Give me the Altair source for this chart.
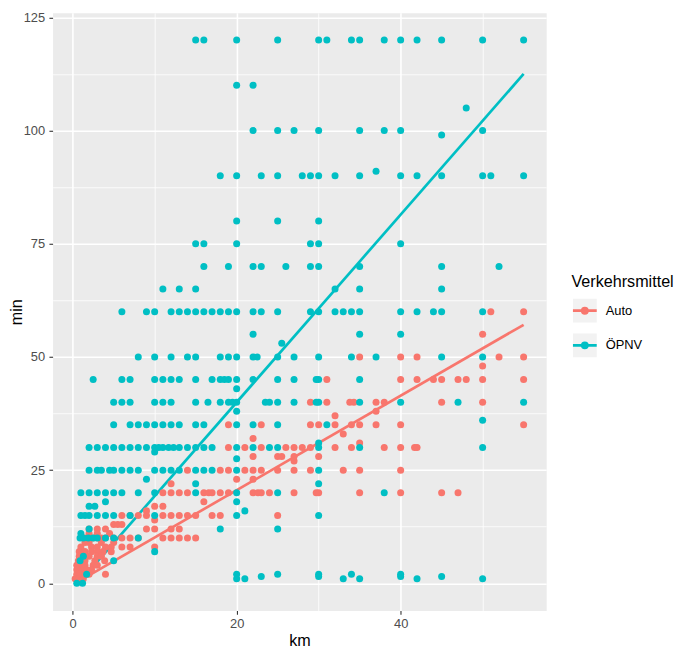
import altair as alt
import pandas as pd

# ---- data: minutes -> list of km values ----
oepnv_points = {
    120: [15, 16, 20, 25, 30, 31, 34, 35, 38, 40, 42, 45, 50, 55],
    110: [20, 22],
    105: [48],
    100: [22, 25, 27, 30, 35, 38, 40, 50],
    99: [45],
    91: [37],
    90: [18, 20, 23, 25, 28, 29, 30, 32, 35, 40, 42, 45, 50, 51, 55],
    80: [20, 25, 30],
    75: [15, 16, 20, 29, 30, 40],
    70: [16, 19, 22, 23, 26, 29, 30, 35, 45, 52],
    65: [11, 13, 15, 32, 35, 45],
    60: [6, 9, 10, 12, 13, 14, 15, 16, 17, 18, 19, 20, 22, 23, 25, 29, 30,
         32, 33, 34, 35, 40, 42, 44, 45, 50],
    55: [22, 35, 40],
    53: [25.5],
    50: [8, 10, 12, 14, 15, 18, 19, 20, 22, 22.5, 25, 27, 30, 34, 37, 45, 50],
    45: [2.5, 6, 7, 10, 11, 12, 13, 15, 17, 18, 18.5, 19, 20, 22, 25, 27,
         29.7, 30, 35],
    43: [20],
    40: [5, 6, 7, 10, 11, 12, 15, 16.5, 18, 19, 19.5, 20, 23.5, 24, 25, 27,
         29.7, 30, 35, 40, 47, 55],
    38: [20],
    36: [50],
    35: [5, 7, 8, 9, 10, 11, 12, 13, 15, 16, 20, 22, 25, 31],
    31: [30],
    30: [2, 3, 4, 5, 6, 7, 8, 9, 10, 10.5, 11, 11.7, 12.3, 13, 14, 15, 16,
         17, 20, 22, 24, 25, 30, 35, 50],
    29: [10],
    27.5: [20],
    25: [2, 3, 3.5, 4.5, 5, 6, 7, 8, 10, 11, 12, 13, 15, 16, 17, 20, 30],
    23: [9],
    22: [15, 30],
    20: [1, 2, 3, 4, 5, 6, 8, 10, 15, 20, 25, 38],
    18: [4, 20],
    17: [2, 2.7],
    16: [21],
    15: [1, 1.5, 2, 3, 4, 5, 7, 10, 20, 30],
    12: [2, 18, 25],
    11: [1],
    10: [0.9, 1.3, 1.9, 2.5, 3, 4, 5, 8],
    7: [10],
    6: [1.3],
    5: [0.9, 5],
    2: [1.7, 20, 25, 30, 34, 40],
    1.5: [23, 30, 40, 45],
    1: [20, 21, 33, 35, 42, 50],
    0: [0.5, 1.2],
}

auto_points = {
    60: [51, 55],
    55: [50],
    50: [35, 40, 42, 52, 55],
    48: [50],
    45: [31, 40, 42, 44, 45, 47, 48, 50, 55],
    40: [29, 31, 33.8, 34.3, 37, 38, 45, 50],
    38: [37],
    37: [32],
    35: [19, 23, 29, 30, 32, 34, 35, 37, 40, 55],
    33: [33],
    32: [22],
    31: [35],
    30: [19, 21, 23, 26, 27, 28, 29, 32, 34, 38, 40, 41.7, 42],
    28: [22, 25, 25.5, 27, 30],
    27: [27],
    25: [14, 18, 19, 21, 22, 23, 25, 27, 29, 33, 35, 40],
    23: [20, 22],
    22: [12],
    20: [11, 12, 13, 14, 16, 16.6, 17, 18, 19, 22, 22.6, 23, 24, 27, 29.7,
         30, 35, 40, 45, 47],
    18: [16],
    17: [10, 11],
    16: [9],
    15: [6, 7, 8, 9, 11, 12, 13, 14, 15, 17, 18, 25],
    14: [10],
    13: [5, 5.5, 6],
    12: [2, 3, 4, 9, 10, 12, 13],
    11: [2, 3, 4.5],
    10: [1.5, 2, 2.5, 3, 3.5, 4, 5, 6, 7, 8, 11, 12, 13, 14, 15],
    9: [1.5, 2, 3.5, 5],
    8: [1, 2.3, 3, 4, 4.7, 6, 7, 10],
    7: [0.8, 1.5, 2.3, 3, 3.7, 4.7],
    6: [0.8, 1.2, 2, 3, 3.5],
    5: [0.7, 1.5, 2.7, 3.9],
    4: [0.5, 1, 1.5, 2.5, 3],
    3: [0.5, 1.2, 1.7, 2.3],
    2: [0.5, 0.9, 1.5, 2, 4],
    1: [0.3, 0.7, 1.3],
}

# fitted (least-squares) lines as drawn in the picture: end points per series
fit_auto_km = [0.3, 55]
fit_auto_min = [0.0, 57.1]
fit_oepnv_km = [0.5, 55]
fit_oepnv_min = [-0.4, 112.5]

categories = ["Auto", "ÖPNV"]
colors = ["#F8766D", "#00BFC4"]
x_ticks = [0, 10, 20, 30, 40, 50]
y_ticks = [0, 12.5, 25, 37.5, 50, 62.5, 75, 87.5, 100, 112.5, 125]

rows = []
for name, pts in (("Auto", auto_points), ("ÖPNV", oepnv_points)):
    for m, kms in pts.items():
        for k in kms:
            rows.append({"km": k, "min": m, "Verkehrsmittel": name})
df = pd.DataFrame(rows)

fit_df = pd.DataFrame({
    "km": fit_auto_km + fit_oepnv_km,
    "min": fit_auto_min + fit_oepnv_min,
    "Verkehrsmittel": ["Auto"] * len(fit_auto_km) + ["ÖPNV"] * len(fit_oepnv_km),
})

FONT = "Liberation Sans"

x_enc = alt.X(
    "km:Q",
    title="km",
    scale=alt.Scale(domain=[-2.45, 57.75], nice=False, zero=False),
    axis=alt.Axis(
        values=x_ticks,
        labelExpr="datum.value % 20 === 0 ? datum.label : ''",
        gridWidth={"condition": {"test": "datum.value % 20 === 0", "value": 1.6}, "value": 0.8},
        tickOpacity={"condition": {"test": "datum.value % 20 === 0", "value": 1}, "value": 0},
        labelPadding=3,
        labelOverlap=False,
        titleY=35,
        titleBaseline="alphabetic",
    ),
)
y_enc = alt.Y(
    "min:Q",
    title="min",
    scale=alt.Scale(domain=[-6, 126], nice=False, zero=False),
    axis=alt.Axis(
        values=y_ticks,
        labelExpr="datum.value % 25 === 0 ? datum.label : ''",
        gridWidth={"condition": {"test": "datum.value % 25 === 0", "value": 1.6}, "value": 0.8},
        tickOpacity={"condition": {"test": "datum.value % 25 === 0", "value": 1}, "value": 0},
        labelPadding=4.3,
        labelOverlap=False,
        titleX=-31,
        titleY=301.5,
        titleAngle=270,
        titleAlign="center",
        titleBaseline="alphabetic",
    ),
)

color_scale = alt.Scale(domain=categories, range=colors)

key_path = ("M-1,-1M1,1M-1,0L1,0"
            "M0.22,0A0.22,0.22,0,1,1,-0.22,0A0.22,0.22,0,1,1,0.22,0"
            "M0.08,0A0.08,0.08,0,1,1,-0.08,0A0.08,0.08,0,1,1,0.08,0")

common_legend = dict(
    orient="none",
    legendX=523.5,
    legendY=264,
    title="Verkehrsmittel",
    titleFontSize=16.3,
    titleFontWeight="normal",
    titlePadding=6.7,
    labelFontSize=13,
    labelOffset=7.5,
    symbolSize=576,
    symbolStrokeWidth=2.7,
    rowPadding=0,
    padding=0,
)

keys = alt.Chart(df).transform_filter("false").mark_square(opacity=1).encode(
    fill=alt.Fill(
        "Verkehrsmittel:N",
        scale=alt.Scale(domain=categories, range=["#F2F2F2", "#F2F2F2"]),
        legend=alt.Legend(
            symbolType="square",
            symbolStrokeColor="transparent",
            titleColor="transparent",
            labelColor="transparent",
            zindex=0,
            **common_legend,
        ),
    )
)

lines = alt.Chart(fit_df).mark_line(strokeWidth=2.7).encode(
    x=x_enc,
    y=y_enc,
    detail="Verkehrsmittel:N",
    color=alt.Color(
        "Verkehrsmittel:N",
        scale=color_scale,
        legend=alt.Legend(
            symbolType=key_path,
            titleColor="black",
            labelColor="black",
            zindex=1,
            **common_legend,
        ),
    ),
)

points = alt.Chart(df).mark_circle(size=50, opacity=1).encode(
    x=x_enc,
    y=y_enc,
    color=alt.Color("Verkehrsmittel:N", scale=color_scale, legend=None),
)

chart = (
    alt.layer(keys, lines, points)
    .resolve_legend(color="independent")
    .properties(
        width=498,
        height=603,
        padding={"left": 45, "top": 2, "right": 132, "bottom": 39},
        autosize=alt.AutoSizeParams(type="none"),
    )
    .configure(font=FONT)
    .configure_view(fill="#EBEBEB", stroke="transparent")
    .configure_axis(
        domain=False,
        gridColor="white",
        tickColor="#333333",
        tickWidth=1.1,
        tickSize=3.7,
        labelColor="#4D4D4D",
        labelFontSize=13,
        titleFontSize=16.3,
        titleFontWeight="normal",
        titleColor="black",
    )
)

chart.save("out.html", embed_options={"renderer": "svg", "actions": False})
